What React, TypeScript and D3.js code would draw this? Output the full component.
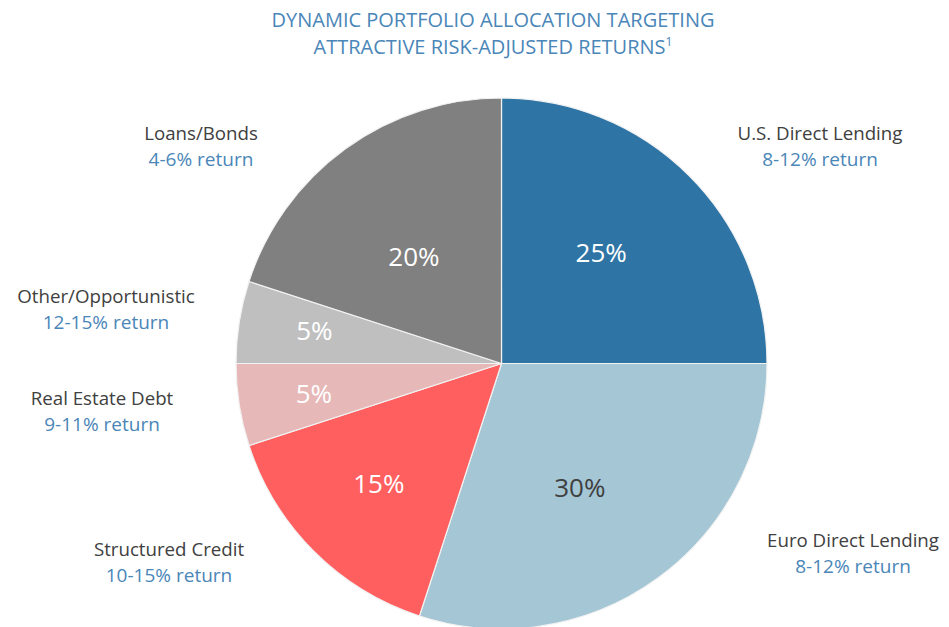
import React from "react";
import * as d3 from "d3";

const categories = [
  "U.S. Direct Lending",
  "Euro Direct Lending",
  "Structured Credit",
  "Real Estate Debt",
  "Other/Opportunistic",
  "Loans/Bonds",
];
const shares = [25, 30, 15, 5, 5, 20];
const returnRanges = ["8-12%", "8-12%", "10-15%", "9-11%", "12-15%", "4-6%"];
const titleLines = ["DYNAMIC PORTFOLIO ALLOCATION TARGETING", "ATTRACTIVE RISK-ADJUSTED RETURNS"];

// styles / layout (not data)
const sliceColors = ["#2E75A6", "#A4C6D5", "#FF5F5F", "#E6B8B8", "#BFBFBF", "#808080"];
const pctColors = ["#FFFFFF", "#404040", "#FFFFFF", "#FFFFFF", "#FFFFFF", "#FFFFFF"];
const pctRadius = [149, 147, 172, 190, 190, 138];
const pctAngleShift = [-3, 3.8, 0.5, 0, 1, -3.4];
const calloutX = [820, 853, 169, 102, 106, 201];
const calloutY = [140, 547, 556, 405, 303, 140];

const W = 949;
const H = 627;
const CX = 501.5;
const CY = 363.5;
const R = 265.5;
const FONT = "'Open Sans', 'Noto Sans', sans-serif";
const BLUE_TEXT = "#4A86B8";

export default function App() {
  React.useEffect(() => {
    document.body.style.margin = "0";
  }, []);

  const pie = d3
    .pie<number>()
    .sort(null)
    .value((d) => d)
    .startAngle(0)
    .endAngle(2 * Math.PI);
  const arcs = pie(shares);
  const arc = d3.arc<d3.PieArcDatum<number>>().innerRadius(0).outerRadius(R);

  return (
    <svg width={W} height={H} style={{ display: "block", background: "#fff" }}>
      <g fontFamily={FONT}>
        <text x={493} y={27} textAnchor="middle" fontSize={20} fill={BLUE_TEXT}>
          {titleLines[0]}
        </text>
        <text x={493} y={54} textAnchor="middle" fontSize={20} fill={BLUE_TEXT}>
          {titleLines[1]}
          <tspan fontSize={12} dy={-8}>1</tspan>
        </text>

        <g transform={`translate(${CX},${CY})`}>
          {arcs.map((a, i) => (
            <path key={categories[i]} d={arc(a) || ""} fill={sliceColors[i]} stroke="#F2F2F2" strokeWidth={1.2} />
          ))}
          {arcs.map((a, i) => {
            const mid = (a.startAngle + a.endAngle) / 2 + (pctAngleShift[i] * Math.PI) / 180;
            const x = pctRadius[i] * Math.sin(mid);
            const y = -pctRadius[i] * Math.cos(mid);
            return (
              <text
                key={"p" + i}
                x={x}
                y={y}
                dy="0.36em"
                textAnchor="middle"
                fontSize={26}
                fill={pctColors[i]}
              >
                {`${a.data}%`}
              </text>
            );
          })}
        </g>

        {categories.map((c, i) => (
          <g key={"c" + i}>
            <text x={calloutX[i]} y={calloutY[i]} textAnchor="middle" fontSize={18.7} fill="#404040">
              {c}
            </text>
            <text x={calloutX[i]} y={calloutY[i] + 26} textAnchor="middle" fontSize={19} fill={BLUE_TEXT}>
              {`${returnRanges[i]} return`}
            </text>
          </g>
        ))}
      </g>
    </svg>
  );
}
